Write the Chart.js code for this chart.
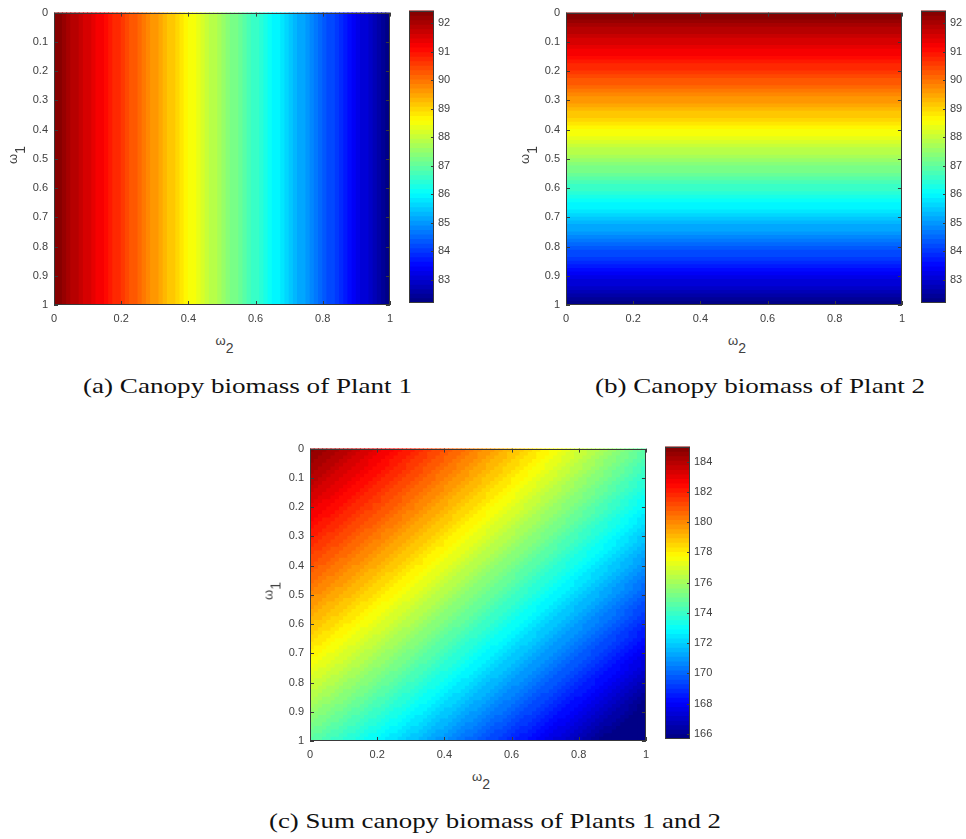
<!DOCTYPE html>
<html>
<head>
<meta charset="utf-8">
<script src="https://cdn.jsdelivr.net/npm/chart.js@4.4.1/dist/chart.umd.min.js"></script>
<style>
  html, body { margin: 0; padding: 0; background: #fff; }
  body { width: 966px; height: 839px; position: relative; overflow: hidden; }
  .box { position: absolute; }
  .lab { position: absolute; font: 13px 'Liberation Sans', Arial, sans-serif; color: #404040; line-height: 15px; white-space: nowrap; }
  .lab .sub { position: relative; top: 8px; font-size: 14px; }
  .cap { position: absolute; font: 22px 'Liberation Serif', serif; color: #111; white-space: nowrap; line-height: 26px; transform-origin: 0 0; }
</style>
</head>
<body>

<div class="box" style="left:0px;top:0px;width:400px;height:330px"><canvas id="heatA"></canvas></div>
<div class="box" style="left:409px;top:0px;width:55px;height:313px"><canvas id="barA"></canvas></div>
<div class="box" style="left:512px;top:0px;width:400px;height:330px"><canvas id="heatB"></canvas></div>
<div class="box" style="left:921px;top:0px;width:55px;height:313px"><canvas id="barB"></canvas></div>
<div class="box" style="left:256px;top:436px;width:400px;height:330px"><canvas id="heatC"></canvas></div>
<div class="box" style="left:665px;top:436px;width:55px;height:313px"><canvas id="barC"></canvas></div>

<!-- axis titles -->
<div class="lab" style="left:224.5px;top:332.5px;transform:translateX(-50%)">ω<span class="sub">2</span></div>
<div class="lab" style="left:12px;top:154.5px;transform:translate(-50%,-50%) rotate(-90deg)">ω<span class="sub">1</span></div>
<div class="lab" style="left:737px;top:332.5px;transform:translateX(-50%)">ω<span class="sub">2</span></div>
<div class="lab" style="left:524px;top:154.5px;transform:translate(-50%,-50%) rotate(-90deg)">ω<span class="sub">1</span></div>
<div class="lab" style="left:481px;top:768.5px;transform:translateX(-50%)">ω<span class="sub">2</span></div>
<div class="lab" style="left:268px;top:590.5px;transform:translate(-50%,-50%) rotate(-90deg)">ω<span class="sub">1</span></div>

<!-- sub-figure captions -->
<div class="cap" data-w="329" style="left:83px;top:373px">(a) Canopy biomass of Plant 1</div>
<div class="cap" data-w="330" style="left:595px;top:373px">(b) Canopy biomass of Plant 2</div>
<div class="cap" data-w="452" style="left:269px;top:808px">(c) Sum canopy biomass of Plants 1 and 2</div>

<script>
// cell centres along omega (same 80 cells on both axes)
const omegaCentres = [0.00625, 0.01875, 0.03125, 0.04375, 0.05625, 0.06875, 0.08125, 0.09375, 0.10625, 0.11875,
  0.13125, 0.14375, 0.15625, 0.16875, 0.18125, 0.19375, 0.20625, 0.21875, 0.23125, 0.24375,
  0.25625, 0.26875, 0.28125, 0.29375, 0.30625, 0.31875, 0.33125, 0.34375, 0.35625, 0.36875,
  0.38125, 0.39375, 0.40625, 0.41875, 0.43125, 0.44375, 0.45625, 0.46875, 0.48125, 0.49375,
  0.50625, 0.51875, 0.53125, 0.54375, 0.55625, 0.56875, 0.58125, 0.59375, 0.60625, 0.61875,
  0.63125, 0.64375, 0.65625, 0.66875, 0.68125, 0.69375, 0.70625, 0.71875, 0.73125, 0.74375,
  0.75625, 0.76875, 0.78125, 0.79375, 0.80625, 0.81875, 0.83125, 0.84375, 0.85625, 0.86875,
  0.88125, 0.89375, 0.90625, 0.91875, 0.93125, 0.94375, 0.95625, 0.96875, 0.98125, 0.99375];
const cellHalf = 0.00625;

// canopy biomass of plant 1, read across omega_2 (left to right)
const plant1Biomass = [92.40, 92.29, 92.18, 92.07, 91.96, 91.85, 91.74, 91.63, 91.51, 91.40,
  91.28, 91.17, 91.05, 90.93, 90.81, 90.69, 90.58, 90.45, 90.33, 90.21,
  90.09, 89.97, 89.84, 89.72, 89.60, 89.47, 89.35, 89.22, 89.09, 88.97,
  88.84, 88.72, 88.59, 88.46, 88.33, 88.21, 88.08, 87.95, 87.82, 87.70,
  87.57, 87.44, 87.31, 87.18, 87.05, 86.93, 86.80, 86.67, 86.54, 86.41,
  86.28, 86.15, 86.02, 85.89, 85.75, 85.62, 85.49, 85.36, 85.23, 85.09,
  84.96, 84.82, 84.69, 84.55, 84.42, 84.28, 84.14, 84.00, 83.86, 83.72,
  83.58, 83.44, 83.30, 83.16, 83.01, 82.87, 82.72, 82.57, 82.42, 82.27];

// canopy biomass of plant 2, read down omega_1 (top to bottom)
const plant2Biomass = [92.40, 92.29, 92.18, 92.07, 91.96, 91.85, 91.74, 91.63, 91.51, 91.40,
  91.28, 91.17, 91.05, 90.93, 90.81, 90.69, 90.58, 90.45, 90.33, 90.21,
  90.09, 89.97, 89.84, 89.72, 89.60, 89.47, 89.35, 89.22, 89.09, 88.97,
  88.84, 88.72, 88.59, 88.46, 88.33, 88.21, 88.08, 87.95, 87.82, 87.70,
  87.57, 87.44, 87.31, 87.18, 87.05, 86.93, 86.80, 86.67, 86.54, 86.41,
  86.28, 86.15, 86.02, 85.89, 85.75, 85.62, 85.49, 85.36, 85.23, 85.09,
  84.96, 84.82, 84.69, 84.55, 84.42, 84.28, 84.14, 84.00, 83.86, 83.72,
  83.58, 83.44, 83.30, 83.16, 83.01, 82.87, 82.72, 82.57, 82.42, 82.27];

// ticks
const omega2Ticks = [0, 0.2, 0.4, 0.6, 0.8, 1];
const omega2TickLabels = ['0', '0.2', '0.4', '0.6', '0.8', '1'];
const omega1Ticks = [0, 0.1, 0.2, 0.3, 0.4, 0.5, 0.6, 0.7, 0.8, 0.9, 1];
const omega1TickLabels = ['0', '0.1', '0.2', '0.3', '0.4', '0.5', '0.6', '0.7', '0.8', '0.9', '1'];
const plantBarTicks = [83, 84, 85, 86, 87, 88, 89, 90, 91, 92];
const sumBarTicks = [166, 168, 170, 172, 174, 176, 178, 180, 182, 184];

// colour limits of the colorbars
const plantLimits = [82.2, 92.45];
const sumLimits = [165.7, 185.0];

// plot (c) is the sum of the two plants
const sumBiomass = plant2Biomass.map(p2 => plant1Biomass.map(p1 => p1 + p2));

Chart.defaults.font.family = "'Liberation Sans', Arial, sans-serif";
Chart.defaults.font.size = 11;
Chart.defaults.color = '#404040';
Chart.defaults.animation = false;

// matlab jet, 64 levels
function jet(t) {
  const c = x => Math.round(255 * Math.max(0, Math.min(1, x)));
  return 'rgb(' + c(1.5 - Math.abs(4 * t - 3)) + ',' + c(1.5 - Math.abs(4 * t - 2)) + ',' + c(1.5 - Math.abs(4 * t - 1)) + ')';
}
function levelColour(level) {
  return jet((level + 0.5) / 64);
}
function cellColour(v, lim) {
  let level = Math.floor((v - lim[0]) / (lim[1] - lim[0]) * 64);
  level = Math.max(0, Math.min(63, level));
  return levelColour(level);
}

// box round the plot area with inward ticks
const framePlugin = {
  id: 'frame',
  afterDraw(chart, args, opts) {
    const {ctx, chartArea: a, scales} = chart;
    ctx.save();
    ctx.strokeStyle = '#3a3a3a';
    ctx.lineWidth = 1;
    ctx.strokeRect(Math.round(a.left) + 0.5, Math.round(a.top) + 0.5, Math.round(a.width) - 1, Math.round(a.height) - 1);
    ctx.beginPath();
    if (opts.colorbar) {
      scales.y.ticks.forEach(t => {
        const y = Math.round(scales.y.getPixelForValue(t.value)) + 0.5;
        ctx.moveTo(a.right, y); ctx.lineTo(a.right - 3, y);
      });
    } else {
      scales.x.ticks.forEach(t => {
        const x = Math.round(scales.x.getPixelForValue(t.value)) + 0.5;
        ctx.moveTo(x, a.bottom); ctx.lineTo(x, a.bottom - 4);
        ctx.moveTo(x, a.top); ctx.lineTo(x, a.top + 4);
      });
      scales.y.ticks.forEach(t => {
        const y = Math.round(scales.y.getPixelForValue(t.value)) + 0.5;
        ctx.moveTo(a.left, y); ctx.lineTo(a.left + 4, y);
        ctx.moveTo(a.right, y); ctx.lineTo(a.right - 4, y);
      });
    }
    ctx.stroke();
    ctx.restore();
  }
};

function heatScales() {
  return {
    x: {
      type: 'linear', min: 0, max: 1, offset: false,
      grid: {display: false, drawTicks: false}, border: {display: false},
      ticks: {padding: 7, maxRotation: 0, callback: (v, i) => omega2TickLabels[i]},
      afterBuildTicks: s => { s.ticks = omega2Ticks.map(v => ({value: v})); },
      afterFit: s => { s.height = 25; }
    },
    y: {
      type: 'linear', min: 0, max: 1, reverse: true, offset: false,
      grid: {display: false, drawTicks: false}, border: {display: false},
      ticks: {padding: 6, callback: (v, i) => omega1TickLabels[i]},
      afterBuildTicks: s => { s.ticks = omega1Ticks.map(v => ({value: v})); },
      afterFit: s => { s.width = 54; }
    }
  };
}

function heatChart(id, points, colours, indexAxis) {
  new Chart(document.getElementById(id), {
    type: 'bar',
    data: {
      datasets: [{
        data: points,
        backgroundColor: colours,
        borderWidth: 0,
        inflateAmount: 0.5,
        barPercentage: 1,
        categoryPercentage: 1
      }]
    },
    options: {
      indexAxis: indexAxis,
      responsive: true,
      maintainAspectRatio: false,
      events: [],
      layout: {padding: {top: 7, right: 4, left: 0, bottom: 0}},
      scales: heatScales(),
      plugins: {legend: {display: false}, tooltip: {enabled: false}, frame: {colorbar: false}}
    },
    plugins: [framePlugin]
  });
}

function colorbarChart(id, lim, ticks) {
  const step = (lim[1] - lim[0]) / 64;
  const levels = [];
  for (let k = 0; k < 64; k++) levels.push(k);
  new Chart(document.getElementById(id), {
    type: 'bar',
    data: {
      labels: ['c'],
      datasets: [{
        data: levels.map(k => ({x: 'c', y: [lim[0] + k * step, lim[0] + (k + 1) * step]})),
        backgroundColor: levels.map(levelColour),
        borderWidth: 0,
        inflateAmount: 0.5,
        barPercentage: 1,
        categoryPercentage: 1
      }]
    },
    options: {
      responsive: true,
      maintainAspectRatio: false,
      events: [],
      layout: {padding: {top: 7, right: 0, left: 0, bottom: 8}},
      scales: {
        x: {type: 'category', display: false, offset: true},
        y: {
          type: 'linear', position: 'right', min: lim[0], max: lim[1],
          grid: {display: false, drawTicks: false}, border: {display: false},
          ticks: {padding: 4},
          afterBuildTicks: s => { s.ticks = ticks.map(v => ({value: v})); },
          afterFit: s => { s.width = 30; }
        }
      },
      plugins: {legend: {display: false}, tooltip: {enabled: false}, frame: {colorbar: true}}
    },
    plugins: [framePlugin]
  });
}

// (a) stripes across omega_2
heatChart('heatA',
  omegaCentres.map(c => ({x: c, y: [0, 1]})),
  plant1Biomass.map(v => cellColour(v, plantLimits)), 'x');

// (b) stripes down omega_1
heatChart('heatB',
  omegaCentres.map(c => ({y: c, x: [0, 1]})),
  plant2Biomass.map(v => cellColour(v, plantLimits)), 'y');

// (c) full grid
const sumPoints = [];
const sumColours = [];
sumBiomass.forEach((row, i) => {
  row.forEach((v, j) => {
    sumPoints.push({x: omegaCentres[j], y: [omegaCentres[i] - cellHalf, omegaCentres[i] + cellHalf]});
    sumColours.push(cellColour(v, sumLimits));
  });
});
heatChart('heatC', sumPoints, sumColours, 'x');

colorbarChart('barA', plantLimits, plantBarTicks);
colorbarChart('barB', plantLimits, plantBarTicks);
colorbarChart('barC', sumLimits, sumBarTicks);

// stretch captions to the width they take in the figure
document.querySelectorAll('.cap').forEach(el => {
  const w = el.getBoundingClientRect().width;
  el.style.transform = 'scaleX(' + (Number(el.dataset.w) / w) + ')';
});
</script>
</body>
</html>
